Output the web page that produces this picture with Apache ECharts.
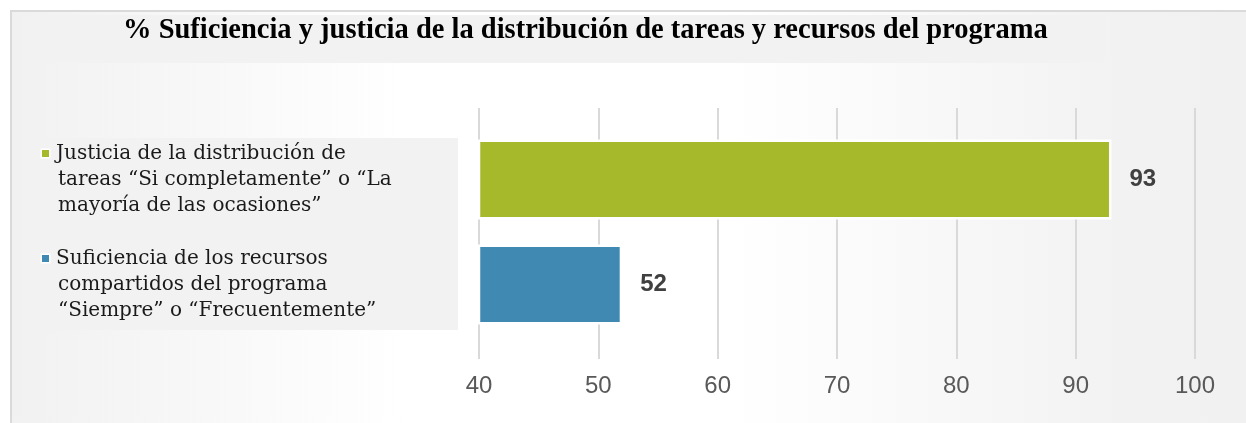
<!DOCTYPE html>
<html>
<head>
<meta charset="utf-8">
<script src="https://cdn.jsdelivr.net/npm/echarts@6/dist/echarts.min.js"></script>
<style>
  html, body { margin: 0; padding: 0; background: #fff; }
  #chart { width: 1246px; height: 423px; }
</style>
</head>
<body>
<div id="chart"></div>
<script>
// datos
const titulo = '% Suficiencia y justicia de la distribución de tareas y recursos del programa';
const categorias = [
  ['Justicia de la distribución de', 'tareas “Si completamente” o “La', 'mayoría de las ocasiones”'],
  ['Suficiencia de los recursos', 'compartidos del programa', '“Siempre” o “Frecuentemente”']
];
const valores = [93, 52];
const ejeTicks = [40, 50, 60, 70, 80, 90, 100];

const colores = ['#a6b92a', '#3f89b3'];

let chart = echarts.init(document.getElementById('chart'));

// etiqueta con el cuadrito de color en la primera linea
function etiqueta(lineas, i) {
  return lineas.map(function (l, k) {
    return (k === 0 ? '{sq' + i + '|}{gap|}' : '{pad|}') + '{t|' + l + '}';
  }).join('\n');
}

let rich = {
  gap: { width: 7 },
  pad: { width: 16 },
  t: { fontFamily: 'DejaVu Serif', fontSize: 20, color: '#1a1a1a', lineHeight: 26 }
};
colores.forEach(function (c, i) {
  rich['sq' + i] = { width: 7, height: 7, backgroundColor: c, borderColor: '#fff', borderWidth: 1.5 };
});

chart.setOption({
  animation: false,
  title: {
    text: titulo,
    left: 118,
    top: 11,
    textStyle: { fontFamily: 'Liberation Serif', fontWeight: 'bold', fontSize: 28.5, color: '#000' }
  },
  graphic: [
    {
      type: 'rect', z: -10, silent: true,
      shape: { x: 10, y: 10, width: 1236, height: 413 },
      style: {
        fill: new echarts.graphic.LinearGradient(0, 0, 1, 0, [
          { offset: 0, color: '#f1f1f1' },
          { offset: 0.32, color: '#ffffff' },
          { offset: 0.58, color: '#ffffff' },
          { offset: 0.9, color: '#f2f2f2' },
          { offset: 1, color: '#f1f1f1' }
        ])
      }
    },
    { type: 'line', z: -9, silent: true, shape: { x1: 10, y1: 11, x2: 1246, y2: 11 }, style: { stroke: '#dadada', lineWidth: 2 } },
    { type: 'line', z: -9, silent: true, shape: { x1: 11, y1: 10, x2: 11, y2: 423 }, style: { stroke: '#dadada', lineWidth: 2 } },
    { type: 'rect', z: -9, silent: true, shape: { x: 40, y: 15, width: 1065, height: 48 }, style: { fill: '#f2f2f2' } },
    { type: 'rect', z: -9, silent: true, shape: { x: 40, y: 138, width: 418, height: 192 }, style: { fill: '#f2f2f2' } }
  ],
  grid: [
    { left: 479, right: 51, top: 127, bottom: 86 },
    { left: 479, right: 51, top: 108, bottom: 64 }
  ],
  xAxis: [
    {
      gridIndex: 0, type: 'value', min: 40, max: 100, interval: 10,
      axisLine: { show: false }, axisTick: { show: false },
      axisLabel: { show: false }, splitLine: { show: false }
    },
    {
      gridIndex: 1, type: 'value', min: ejeTicks[0], max: ejeTicks[ejeTicks.length - 1], interval: 10,
      axisLine: { show: false }, axisTick: { show: false },
      axisLabel: { color: '#595959', fontSize: 24, fontFamily: 'Liberation Sans Narrow, Liberation Sans', margin: 15 },
      splitLine: { show: true, lineStyle: { color: '#d9d9d9', width: 2 } }
    }
  ],
  yAxis: [
    {
      gridIndex: 0, type: 'category', inverse: true,
      data: categorias.map(function (c) { return c.join(' '); }),
      axisLine: { show: false }, axisTick: { show: false },
      axisLabel: {
        align: 'left', margin: 437,
        formatter: function (v, i) { return etiqueta(categorias[i], i); },
        rich: rich
      }
    },
    { gridIndex: 1, type: 'value', show: false }
  ],
  series: [{
    type: 'bar',
    xAxisIndex: 0, yAxisIndex: 0,
    barWidth: 80,
    data: valores.map(function (v, i) {
      return { value: v, itemStyle: { color: colores[i] } };
    }),
    itemStyle: { borderColor: '#fff', borderWidth: 2.5 },
    label: {
      show: true, position: 'right', distance: 18,
      fontFamily: 'Liberation Sans', fontWeight: 'bold', fontSize: 24, color: '#404040'
    }
  }]
});
</script>
</body>
</html>
